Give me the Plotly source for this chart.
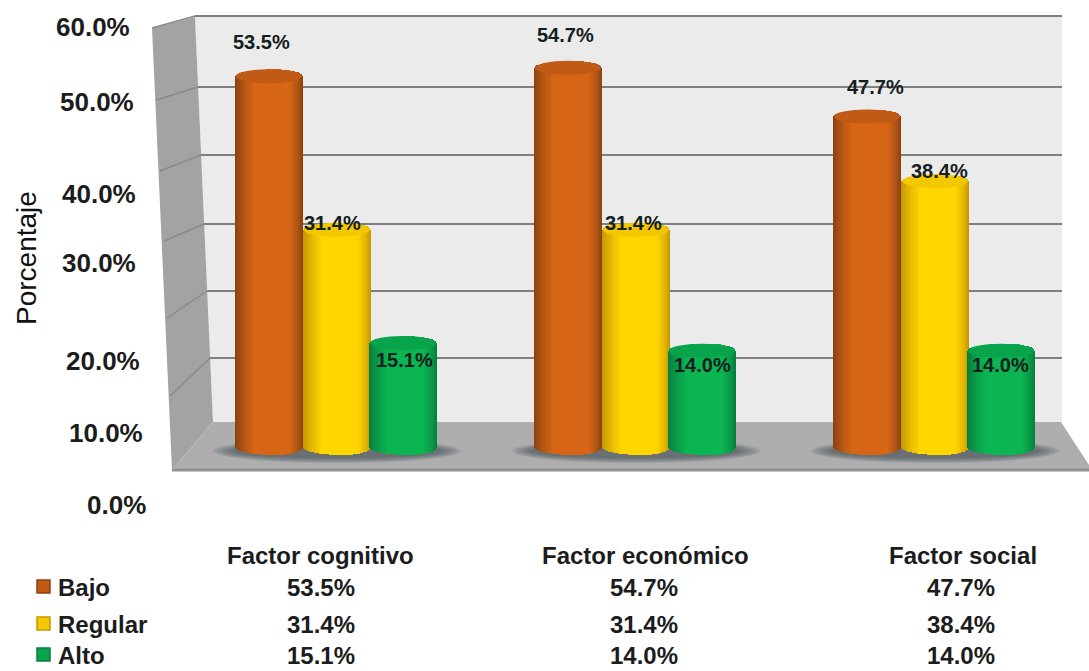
import plotly.graph_objects as go

categories = ["Factor cognitivo", "Factor económico", "Factor social"]
bajo = [53.5, 54.7, 47.7]
regular = [31.4, 31.4, 38.4]
alto = [15.1, 14.0, 14.0]
series_names = ["Bajo", "Regular", "Alto"]
axis_labels = ["60.0%", "50.0%", "40.0%", "30.0%", "20.0%", "10.0%", "0.0%"]

W, H = 1089, 671
# Pixel layout of the picture
X0, X_UNIT = 337, 299.0
Y0, Y_UNIT = 448, 6.95
BAR_PX = 68
series_values = [bajo, regular, alto]
series_offset = [-68, 0, 66]
series_dark = [(0x8A, 0x42, 0x10), (0xC4, 0x96, 0x06), (0x08, 0x7E, 0x3E)]
series_light = [(0xD6, 0x66, 0x16), (0xFF, 0xD6, 0x00), (0x0A, 0xB5, 0x52)]
series_cap = ["#C05A14", "#F4C800", "#08A44C"]
CAP_PX = 7
STRIP_FRACTIONS = [1.0, 0.98, 0.96, 0.94, 0.91, 0.88, 0.85, 0.81, 0.77, 0.72, 0.67, 0.61, 0.54, 0.46, 0.36, 0.22]


def xd(px):
    return (px - X0) / X_UNIT


def yd(py):
    return (Y0 - py) / Y_UNIT


def xp(px):
    return px / W


def yp(py):
    return 1 - py / H


def mix(a, b, t):
    return "rgb(%d,%d,%d)" % tuple(round(a[i] + (b[i] - a[i]) * t) for i in range(3))


fig = go.Figure()
cap_data = CAP_PX / Y_UNIT
for s, vals in enumerate(series_values):
    for k, frac in enumerate(STRIP_FRACTIONS):
        depth = cap_data * (1 - frac * frac) ** 0.5
        t = min(1.0, (1 - frac) / 0.45) ** 0.8
        fig.add_trace(go.Bar(
            x=[i + (series_offset[s] + (1 - frac) * 6) / X_UNIT for i in range(len(vals))],
            y=[v + depth + depth for v in vals],
            base=-depth,
            width=BAR_PX * frac / X_UNIT,
            marker=dict(color=mix(series_dark[s], series_light[s], t), line=dict(width=0)),
            name=series_names[s],
            showlegend=False,
            hoverinfo="skip",
        ))

shapes = []


def poly(points, fill, line=None, width=0):
    path = "M " + " L ".join(f"{xp(a):.5f} {yp(b):.5f}" for a, b in points) + " Z"
    shapes.append(dict(type="path", path=path, xref="paper", yref="paper", layer="below",
                       fillcolor=fill, line=dict(color=line or fill, width=width)))


def seg(a, b, c, d, color="#7f7f7f", width=2):
    shapes.append(dict(type="line", xref="paper", yref="paper", layer="below",
                       x0=xp(a), y0=yp(b), x1=xp(c), y1=yp(d), line=dict(color=color, width=width)))


# Back wall, left wall, floor
poly([(195, 17), (1062, 17), (1062, 422), (213, 422)], "#ebebeb")
poly([(152, 28), (195, 17), (213, 422), (172, 470)], "#a3a3a3")
poly([(213, 422), (1061, 422), (1089, 465), (1089, 470), (172, 470)], "#aeaeae")
seg(172, 470, 1089, 470, "#8f8f8f", 3)

# Gridlines: back wall level and where it meets the left wall
grid_back_y = [16, 87, 155, 224, 291, 358]
grid_back_x = [195, 198, 201, 204, 207, 210]
grid_side = [(152, 28), (156, 100), (160, 171), (164, 241), (167, 318), (170, 396)]
for gy, gx, (sx, sy) in zip(grid_back_y, grid_back_x, grid_side):
    seg(gx, gy, 1062, gy)
    seg(sx, sy, gx, gy, "#8a8a8a", 1.5)

# Floor shadows under each cylinder group
shadow_pads = [20, 16, 12, 8, 4, 0]
for i in range(3):
    for pad in shadow_pads:
        shrink = (20 - pad) * 0.25
        shapes.append(dict(type="circle", xref="x", yref="y", layer="below",
                           x0=i + xd(X0 - 104 - pad), x1=i + xd(X0 + 104 + pad),
                           y0=yd(439 + shrink), y1=yd(463 - shrink),
                           fillcolor="rgba(70,78,88,0.16)", line=dict(width=0)))

# Top faces of the cylinders
half_w = BAR_PX / 2 / X_UNIT
for s, vals in enumerate(series_values):
    for i, v in enumerate(vals):
        cx = i + series_offset[s] / X_UNIT
        shapes.append(dict(type="circle", xref="x", yref="y", layer="above",
                           x0=cx - half_w * 0.97, x1=cx + half_w * 0.97,
                           y0=v - cap_data, y1=v + cap_data,
                           fillcolor=series_cap[s], line=dict(width=0)))

# Legend swatches
row_y = [587, 624, 655]
for s in range(3):
    shapes.append(dict(type="rect", xref="paper", yref="paper", layer="above",
                       x0=xp(37), x1=xp(50), y0=yp(row_y[s] + 6), y1=yp(row_y[s] - 7),
                       fillcolor=series_cap[s], line=dict(color=mix(series_dark[s], series_dark[s], 0), width=1.5)))

annots = []
TEXT = "#1c1c1c"
BOLD = "Liberation Sans"


def text(px, py, s, size=21, anchor="center", color=TEXT, family=BOLD, bold=True, angle=0):
    annots.append(dict(x=xp(px), y=yp(py), xref="paper", yref="paper", showarrow=False,
                       text=f"<b>{s}</b>" if bold else s, xanchor=anchor, yanchor="middle",
                       font=dict(family=family, size=size, color=color), textangle=angle))


# Axis labels
label_right = [132, 136, 138, 138, 142, 145, 148]
label_y = [27, 102, 194, 263, 361, 433, 505]
for s, r, y in zip(axis_labels, label_right, label_y):
    text(r, y, s, anchor="right", size=26)
text(27, 258, "Porcentaje", size=28, bold=False, angle=-90, color="#111111")

# Data table
header_x = [320, 645, 963]
cell_x = [321, 644, 961]
for c, hx in zip(categories, header_x):
    text(hx, 555, c, size=24)
for s, vals in enumerate(series_values):
    text(56, row_y[s], series_names[s], anchor="left", size=24)
    for v, cx in zip(vals, cell_x):
        text(cx, row_y[s], f"{v:.1f}%", size=24)

# Value labels on the cylinders
label_px = [[(261, 42), (565, 35), (875, 87)],
            [(332, 223), (633, 223), (939, 171)],
            [(404, 360), (702, 365), (1000, 365)]]
for s, vals in enumerate(series_values):
    for v, (lx, ly) in zip(vals, label_px[s]):
        text(lx, ly, f"{v:.1f}%", size=20, color="#142020")

fig.update_layout(
    width=W, height=H, margin=dict(l=0, r=0, t=0, b=0),
    paper_bgcolor="white", plot_bgcolor="rgba(0,0,0,0)",
    barmode="overlay", bargap=0, showlegend=False,
    xaxis=dict(range=[xd(0), xd(W)], visible=False, fixedrange=True),
    yaxis=dict(range=[yd(H), yd(0)], visible=False, fixedrange=True),
    shapes=shapes, annotations=annots,
)
fig.write_html("out.html", config={"displayModeBar": False},
               post_script="document.body.style.margin='0';document.documentElement.style.overflow='hidden';")
